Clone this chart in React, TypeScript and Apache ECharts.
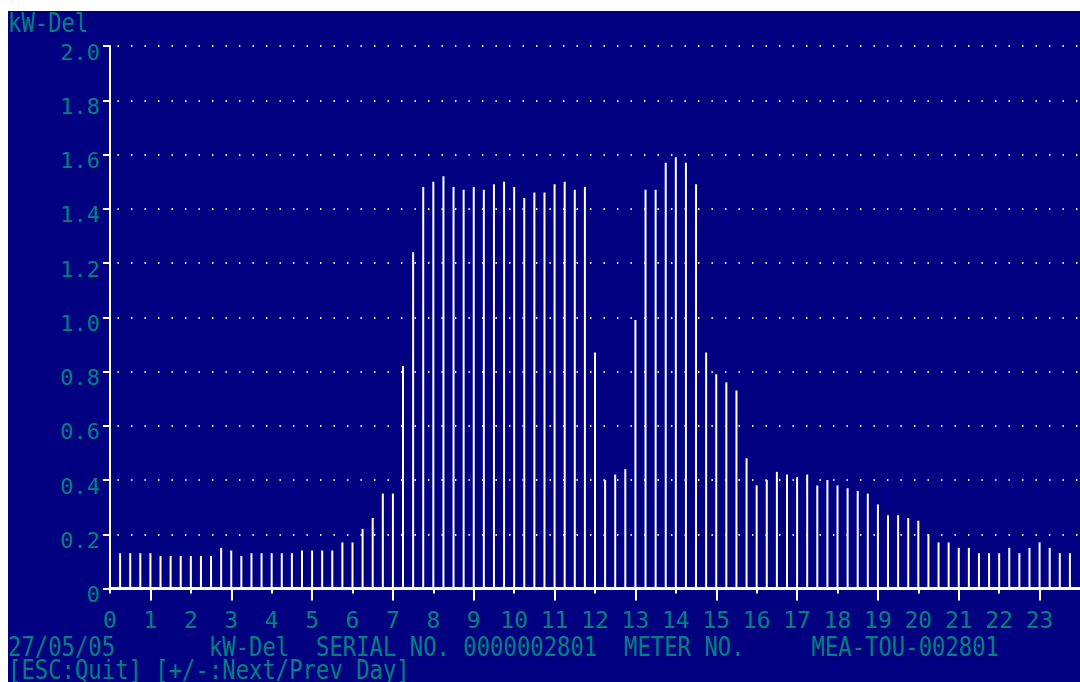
import React, { useEffect, useRef } from "react";
import * as echarts from "echarts";

// hour labels on the x axis (one per hour tick)
const hourLabels = [
  "0", "1", "2", "3", "4", "5", "6", "7", "8", "9", "10", "11",
  "12", "13", "14", "15", "16", "17", "18", "19", "20", "21", "22", "23",
];
const shortTickHours = [0, 2, 4, 6, 8, 10, 12, 14, 16, 18, 20, 22];
const longTickHours = [1, 3, 5, 7, 9, 11, 13, 15, 17, 19, 21, 23];

// y tick labels, 0 .. 2.0 step 0.2
const yTickLabels = ["0", "0.2", "0.4", "0.6", "0.8", "1.0", "1.2", "1.4", "1.6", "1.8", "2.0"];

// 15-minute demand readings (kW-Del), interval ending 00:15 ... 23:45
const kwDel = [
  0.13, 0.13, 0.13, 0.13, 0.12, 0.12, 0.12, 0.12,
  0.12, 0.12, 0.15, 0.14, 0.12, 0.13, 0.13, 0.13,
  0.13, 0.13, 0.14, 0.14, 0.14, 0.14, 0.17, 0.17,
  0.22, 0.26, 0.35, 0.35, 0.82, 1.24, 1.48, 1.50,
  1.52, 1.48, 1.47, 1.48, 1.47, 1.49, 1.50, 1.48,
  1.44, 1.46, 1.46, 1.49, 1.50, 1.47, 1.48, 0.87,
  0.40, 0.42, 0.44, 0.99, 1.47, 1.47, 1.57, 1.59,
  1.57, 1.49, 0.87, 0.79, 0.76, 0.73, 0.48, 0.38,
  0.40, 0.43, 0.42, 0.41, 0.42, 0.38, 0.40, 0.38,
  0.37, 0.36, 0.35, 0.31, 0.27, 0.27, 0.26, 0.25,
  0.20, 0.17, 0.17, 0.15, 0.15, 0.13, 0.13, 0.13,
  0.15, 0.13, 0.15, 0.17, 0.15, 0.13, 0.13,
];

const headerText = "kW-Del";
const footerLine1 =
  "27/05/05       kW-Del  SERIAL NO. 0000002801  METER NO.     MEA-TOU-002801";
const footerLine2 = "[ESC:Quit] [+/-:Next/Prev Day]";

const BLUE = "#000080";
const TEAL = "#008080";
const FONT = "'DejaVu Sans Mono', monospace";
const TXT = 22.26;

export default function App() {
  const ref = useRef<HTMLDivElement>(null);

  useEffect(() => {
    if (!ref.current) return;
    const chart = echarts.init(ref.current, null, { renderer: "svg" });
    const barData = kwDel.map((v, i) => [(i + 1) / 4, v]);

    const textEl = (text: string, y: number) => ({
      type: "text",
      x: 0,
      y,
      scaleY: 1.18,
      silent: true,
      style: {
        text,
        fill: TEAL,
        fontFamily: FONT,
        fontSize: TXT,
        lineHeight: 19,
        verticalAlign: "middle",
        textVerticalAlign: "middle",
        align: "left",
      },
    });

    chart.setOption({
      animation: false,
      backgroundColor: BLUE,
      grid: { left: 102, top: 35, right: -2.5, bottom: 93.5, containLabel: false },
      xAxis: [
        {
          type: "value",
          min: 0,
          max: 24,
          interval: 1,
          position: "bottom",
          axisLine: { show: true, onZero: false, lineStyle: { color: "#fff", width: 3 } },
          axisTick: {
            show: true,
            length: 5,
            customValues: shortTickHours,
            lineStyle: { color: "#fff", width: 2 },
          },
          axisLabel: {
            show: true,
            color: TEAL,
            fontFamily: FONT,
            fontSize: 23,
            lineHeight: 22,
            margin: 20,
            showMaxLabel: false,
            formatter: (v: number) => hourLabels[v] ?? "",
          },
          splitLine: { show: false },
        },
        {
          type: "value",
          min: 0,
          max: 24,
          interval: 1,
          position: "bottom",
          axisLine: { show: false, onZero: false },
          axisTick: {
            show: true,
            length: 12,
            customValues: longTickHours,
            lineStyle: { color: "#fff", width: 2 },
          },
          axisLabel: { show: false },
          splitLine: { show: false },
        },
      ],
      yAxis: {
        type: "value",
        min: 0,
        max: 2,
        interval: 0.2,
        axisLine: { show: true, lineStyle: { color: "#fff", width: 2 } },
        axisTick: { show: true, length: 7, lineStyle: { color: "#fff", width: 2 } },
        axisLabel: {
          color: TEAL,
          fontFamily: FONT,
          fontSize: 22,
          lineHeight: 12,
          margin: 10,
          verticalAlign: "top",
          formatter: (v: number) => yTickLabels[Math.round(v / 0.2)] ?? "",
        },
        splitLine: {
          show: true,
          lineStyle: {
            color: "rgba(255,255,255,0.92)",
            width: 2,
            type: [1.4, 12.1],
            dashOffset: 5.9,
          },
        },
      },
      series: [
        {
          type: "bar",
          xAxisIndex: 0,
          data: barData,
          barWidth: 2,
          silent: true,
          itemStyle: { color: "#ffffff" },
        },
      ],
      graphic: [
        textEl(headerText, 11.5),
        textEl(footerLine1, 635.5),
        textEl(footerLine2, 659.3),
      ],
    });

    return () => chart.dispose();
  }, []);

  return (
    <div
      ref={ref}
      style={{ position: "absolute", left: 8, top: 11, width: 1072, height: 671 }}
    />
  );
}
